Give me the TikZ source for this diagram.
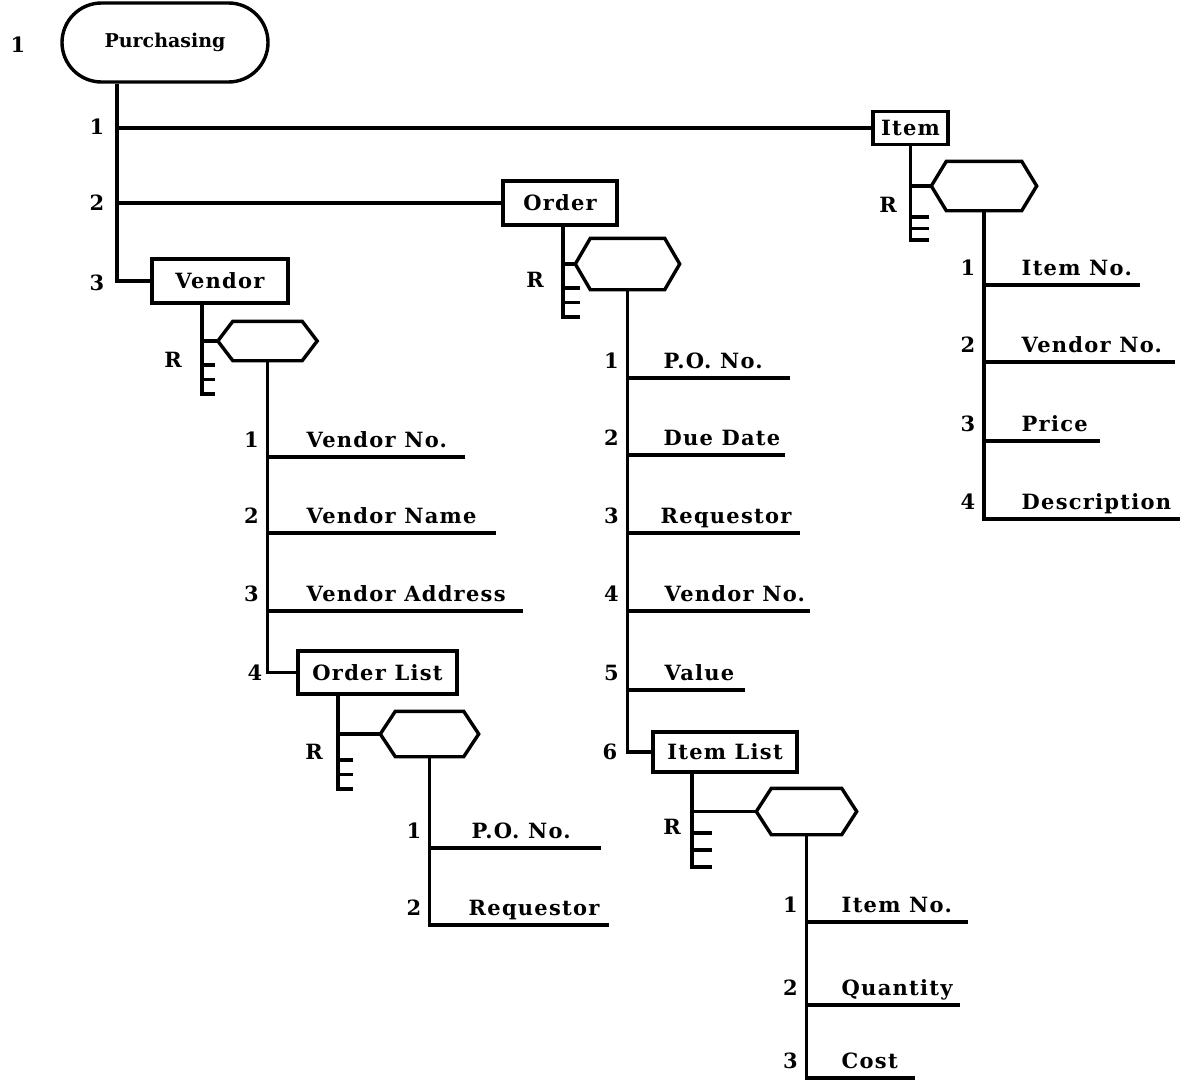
\documentclass[tikz,border=0pt]{standalone}
\usepackage{fontspec}
\setmainfont{DejaVu Serif}
\usetikzlibrary{shapes.misc}
\newfontfamily\labfont{DejaVu Serif}[LetterSpace=6]
\newcommand\lf{\labfont\fontsize{21}{24}\selectfont\bfseries}
\newcommand\rf{\fontsize{19}{22}\selectfont\bfseries}
\tikzset{
  lbl/.style={font=\lf, inner sep=0pt},
  box/.style={draw, rectangle, font=\lf, inner sep=1pt},
  hexbox/.style={inner sep=0pt, draw=none},
}
% hexagon: #1 height, #2 width, #3 name, #4 position
\newcommand\hexa[4]{%
  \node[hexbox, minimum height=#1, minimum width=#2] (#3) at (#4) {};
  \draw (#3.west) -- ([xshift=15pt]#3.north west) -- ([xshift=-15pt]#3.north east)
        -- (#3.east) -- ([xshift=-15pt]#3.south east) -- ([xshift=15pt]#3.south west) -- cycle;}
% comb: #1 box, #2 bottom coordinate, #3 tooth length, #4 spacing
\newcommand\comb[4]{%
  \draw (#1.south -| #2) -- (#2) -- ++(#3,0);
  \draw (#2) ++(0,-#4) -- ++(#3,0);
  \draw (#2) ++(0,-2*#4) -- ++(#3,0);}
% attribute: #1 name, #2 trunk x, #3 underline y, #4 number, #5 text, #6 text x, #7 end x
\newcommand\attr[7]{%
  \node[lbl, anchor=base east] (#1n) at (#2-7,#3-10) {#4};
  \node[lbl, anchor=base west] (#1) at (#6,#3-10) {#5};
  \draw (#2,#3) -- (#7,#3);}
\begin{document}
\begin{tikzpicture}[x=1pt, y=-1pt, line width=3.4pt]
\useasboundingbox (0,0) rectangle (1182,1081);

% root
\node[draw, rounded rectangle, font=\rf, minimum width=206, minimum height=79, inner sep=0pt] (purch) at (165,42.5) {Purchasing};
\node[lbl] (purchn) at (18,45) {1};
\coordinate (tx) at (117,0);

% level-1 boxes
\node[box, minimum width=75, minimum height=33] (item) at (910.5,128) {Item};
\node[box, minimum width=114, minimum height=44] (order) at (560,203) {Order};
\node[box, minimum width=136, minimum height=44] (vendor) at (220,281) {Vendor};

\draw (purch.south -| tx) |- (vendor.west);
\draw (tx |- item.west) -- (item.west);
\draw (tx |- order.west) -- (order.west);
\node[lbl] (n1) at (97,127) {1};
\node[lbl] (n2) at (97,203) {2};
\node[lbl] (n3) at (97,283) {3};

% ---------- Vendor ----------
\coordinate (vbot) at (202,394);
\hexa{36}{96}{vhex}{267.5,341}
\comb{vendor}{vbot}{13}{14.5}
\draw (vbot |- vhex.west) -- (vhex.west);
\node[lbl] (vR) at (173,360) {R};
\node[box, minimum width=159, minimum height=43] (orderlist) at (377.5,672.5) {Order List};
\draw (vhex.south) |- (orderlist.west);
\attr{va1}{267.5}{457}{1}{Vendor No.}{305}{465}
\attr{va2}{267.5}{533}{2}{Vendor Name}{305}{496}
\attr{va3}{267.5}{611}{3}{Vendor Address}{305}{523}
\node[lbl] (va4n) at (255,673) {4};

% ---------- Order List ----------
\coordinate (olbot) at (338,789);
\hexa{42}{95}{olhex}{429.5,734}
\comb{orderlist}{olbot}{15}{14.5}
\draw (olbot |- olhex.west) -- (olhex.west);
\node[lbl] (olR) at (314,752) {R};
\draw (olhex.south) |- (609,925);
\attr{ol1}{430}{848}{1}{P.O. No.}{470}{601}
\attr{ol2}{430}{925}{2}{Requestor}{467}{609}

% ---------- Order ----------
\coordinate (obot) at (563,317);
\hexa{48}{101}{ohex}{627.5,264}
\comb{order}{obot}{17}{14.5}
\draw (obot |- ohex.west) -- (ohex.west);
\node[lbl] (oR) at (535,280) {R};
\node[box, minimum width=144, minimum height=40] (itemlist) at (725,752) {Item List};
\draw (ohex.south) |- (itemlist.west);
\attr{oa1}{627.5}{378}{1}{P.O. No.}{662}{790}
\attr{oa2}{627.5}{455}{2}{Due Date}{662}{785}
\attr{oa3}{627.5}{533}{3}{Requestor}{659}{800}
\attr{oa4}{627.5}{611}{4}{Vendor No.}{663}{810}
\attr{oa5}{627.5}{690}{5}{Value}{663}{745}
\node[lbl] (oa6n) at (610,752) {6};

% ---------- Item List ----------
\coordinate (ilbot) at (692,867);
\hexa{43}{97}{ilhex}{806.5,811.5}
\comb{itemlist}{ilbot}{20}{17}
\draw (ilbot |- ilhex.west) -- (ilhex.west);
\node[lbl] (ilR) at (672,827) {R};
\draw (ilhex.south) |- (915,1078);
\attr{il1}{806.5}{922}{1}{Item No.}{840}{968}
\attr{il2}{806.5}{1005}{2}{Quantity}{840}{960}
\attr{il3}{806.5}{1078}{3}{Cost}{840}{915}

% ---------- Item ----------
\coordinate (ibot) at (910.5,240);
\hexa{46}{102}{ihex}{984,186}
\comb{item}{ibot}{18}{11.5}
\draw (ibot |- ihex.west) -- (ihex.west);
\node[lbl] (iR) at (888,205) {R};
\draw (ihex.south) |- (1180,519);
\attr{ia1}{984}{285}{1}{Item No.}{1020}{1140}
\attr{ia2}{984}{362}{2}{Vendor No.}{1020}{1175}
\attr{ia3}{984}{441}{3}{Price}{1020}{1100}
\attr{ia4}{984}{519}{4}{Description}{1020}{1180}
\end{tikzpicture}
\end{document}
